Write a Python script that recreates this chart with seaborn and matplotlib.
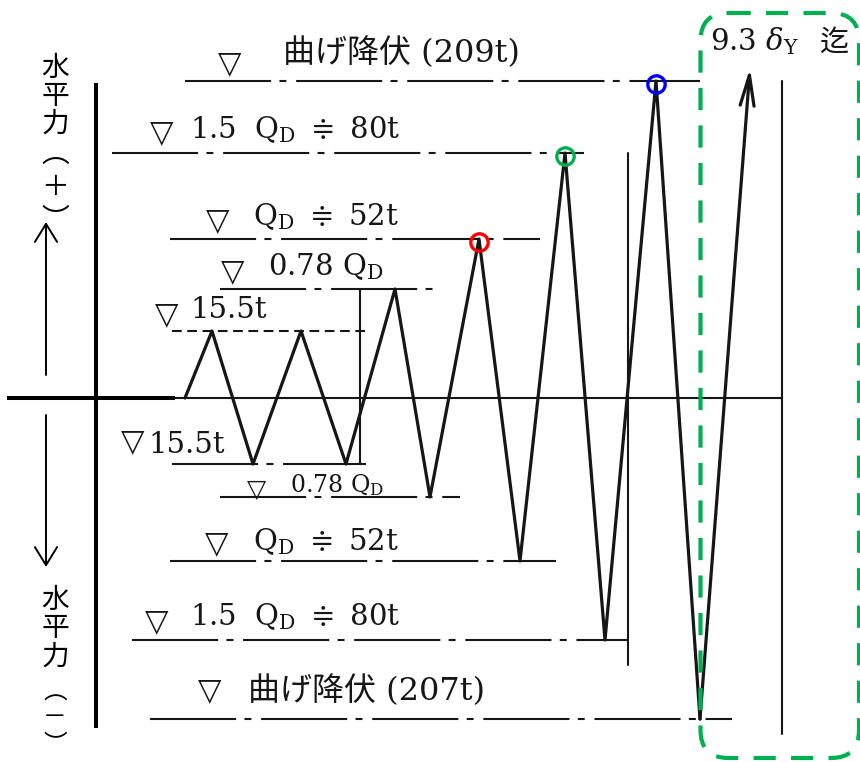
import numpy as np
import pandas as pd
import matplotlib
matplotlib.use("Agg")
import matplotlib.pyplot as plt
import seaborn as sns
from matplotlib.patches import FancyBboxPatch
from matplotlib.transforms import offset_copy

sns.set_theme(style="white")
plt.rcParams["font.family"] = ["DejaVu Serif", "Noto Sans CJK JP"]
plt.rcParams["mathtext.fontset"] = "dejavuserif"
plt.rcParams["lines.scale_dashes"] = False

QD = 52.0  # design shear force (t)

# loading history: horizontal force (t) at each turning point
step = [185, 212, 253, 301, 346, 395, 430, 479, 520, 565, 605, 656, 700]
load = [0, 15.5, -15.5, 15.5, -15.5, 0.78 * QD, -0.78 * QD, QD, -QD, 80, -80, 209, -207]
last_step, last_load = 750, 222  # final excursion, continued up to 9.3 dY

# reference force levels and their guide lines
level_load = [209, 80, QD, 0.78 * QD, 15.5, -15.5, -0.78 * QD, -QD, -80, -207]
level_from = [185, 112, 170, 220, 172, 172, 220, 170, 132, 150]
level_to = [700, 584, 540, 438, 367, 366, 460, 556, 628, 732]
level_text = [
    "曲げ降伏 (209t)",
    r"$1.5\ \ \mathrm{Q_D}\ \doteqdot\ 80\mathrm{t}$",
    r"$\mathrm{Q_D}\ \doteqdot\ 52\mathrm{t}$",
    r"$0.78\ \mathrm{Q_D}$",
    "15.5t",
    "15.5t",
    r"$0.78\ \mathrm{Q_D}$",
    r"$\mathrm{Q_D}\ \doteqdot\ 52\mathrm{t}$",
    r"$1.5\ \ \mathrm{Q_D}\ \doteqdot\ 80\mathrm{t}$",
    "曲げ降伏 (207t)",
]

# peaks highlighted with rings
marked_peaks = [7, 9, 11]
mark_colors = ["#FF0000", "#00B050", "#0000FF"]

# stage boundaries
stage_step = [360, 628, 782]
stage_top = [0.78 * QD, 80, 209]
stage_bottom = [-15.5, -120, -222]

# schematic (non-proportional) force axis of the sheet
sheet_load = [-1000, -207, -80, -QD, -0.78 * QD, -15.5, 0, 15.5, 0.78 * QD, QD, 80, 209, 1000]
sheet_height = [-1114, -321, -242, -163, -99, -66, 0, 67, 109, 159, 245, 317, 1108]


def to_sheet(v):
    return np.interp(np.asarray(v, dtype=float), sheet_load, sheet_height)


def from_sheet(h):
    return np.interp(np.asarray(h, dtype=float), sheet_height, sheet_load)


# label layout: triangle x, triangle lift, text x, text lift (px), text size, triangle size
label_layout = [
    (230, 17, 283, 19, 23, 22),
    (162, 20, 190, 15, 21, 22),
    (218, 18, 253, 14, 21, 22),
    (233, 17, 268, 14, 21, 22),
    (167, 16, 190, 13, 21, 22),
    (133, 22, 148, 11, 21, 22),
    (257, 7, 290, 5, 17, 18),
    (217, 17, 253, 11, 21, 22),
    (157, 18, 190, 15, 21, 22),
    (210, 28, 248, 19, 23, 22),
]
chain = (0, (62, 6, 5, 7))
level_style = [chain, chain, chain, chain, (0, (7, 4)), chain, chain, chain, chain, chain]

fig = plt.figure(figsize=(8.6, 7.62), dpi=100)
ax = fig.add_axes([0, 0, 1, 1])
ax.set_yscale("function", functions=(to_sheet, from_sheet))
ax.set_xlim(0, 860)
ax.set_ylim(float(from_sheet(-364)), float(from_sheet(398)))
ax.axis("off")

ink = "#161616"

# zero line
ax.plot([7, 175], [0, 0], color="black", lw=2.9, solid_capstyle="butt")
ax.plot([175, stage_step[-1]], [0, 0], color=ink, lw=1.5)

# guide lines
for v, x0, x1, ls in zip(level_load, level_from, level_to, level_style):
    ax.plot([x0, x1], [v, v], color=ink, lw=1.5, ls=ls)

# stage boundaries
for x, top, bot in zip(stage_step, stage_top, stage_bottom):
    ax.plot([x, x], [bot, top], color=ink, lw=1.5)

# loading path
path = pd.DataFrame({"step": step, "load": load})
sns.lineplot(data=path, x="step", y="load", sort=False, estimator=None,
             color=ink, lw=2.3, ax=ax, legend=False)
ax.annotate("", xy=(last_step, last_load), xytext=(step[-1], load[-1]),
            arrowprops=dict(arrowstyle="->,head_length=1.1,head_width=0.25",
                            color=ink, lw=2.3, shrinkA=0, shrinkB=0,
                            mutation_scale=20))

# highlighted peaks
ring_shift = offset_copy(ax.transData, fig=fig, x=0, y=-3, units="dots")
for i, c in zip(marked_peaks, mark_colors):
    ax.plot([step[i]], [load[i]], marker="o", ms=12.5, mfc="none", mec=c,
            mew=2.4, transform=ring_shift, zorder=5)

# level labels
for v, txt, (tx, tlift, lx, llift, fs, ts) in zip(level_load, level_text, label_layout):
    ax.annotate("▽", xy=(tx, v), xytext=(0, tlift), textcoords="offset pixels",
                ha="center", va="center", fontsize=ts, color=ink)
    ax.annotate(txt, xy=(lx, v), xytext=(0, llift), textcoords="offset pixels",
                ha="left", va="baseline", fontsize=fs, color=ink)

# sheet furniture in pixel units
ov = fig.add_axes([0, 0, 1, 1], facecolor="none")
ov.set_xlim(0, 860)
ov.set_ylim(762, 0)
ov.axis("off")

ov.plot([96, 96], [83, 728], color="black", lw=2.9, solid_capstyle="butt")

head = "->,head_length=0.65,head_width=0.4"
ov.annotate("", xy=(46, 222), xytext=(46, 375),
            arrowprops=dict(arrowstyle=head, color="black", lw=1.4,
                            shrinkA=0, shrinkB=0, mutation_scale=20))
ov.annotate("", xy=(46, 567), xytext=(46, 415),
            arrowprops=dict(arrowstyle=head, color="black", lw=1.4,
                            shrinkA=0, shrinkB=0, mutation_scale=20))

# vertical axis captions, one character per cell
cjk = ["Noto Sans CJK JP", "DejaVu Sans"]
for ch, y in zip(["水", "平", "力", "︵", "＋", "︶"], [68, 96, 124, 154, 187, 220]):
    ov.text(55, y, ch, ha="center", va="center", fontsize=20, family=cjk, color="black")
for ch, y in zip(["水", "平", "力"], [600, 628, 657]):
    ov.text(55, y, ch, ha="center", va="center", fontsize=20, family=cjk, color="black")
for ch, y in zip(["︵", "－", "︶"], [693, 718, 745]):
    ov.text(55, y, ch, ha="center", va="center", fontsize=17, family=cjk, color="black")

ov.text(710, 50, r"$9.3\ \delta_{\mathrm{Y}}$", ha="left", va="baseline", fontsize=21, color=ink)
ov.text(820, 51, "迄", ha="left", va="baseline", fontsize=21,
        family=["DejaVu Serif", "Noto Sans CJK JP"], color=ink)

ov.add_patch(FancyBboxPatch((700.5, 13), 158.5, 745,
                            boxstyle="round,pad=0,rounding_size=28",
                            fill=False, ec="#00B050", lw=3.0, ls=(0, (16, 11))))

fig.savefig("out.png", dpi=100)
